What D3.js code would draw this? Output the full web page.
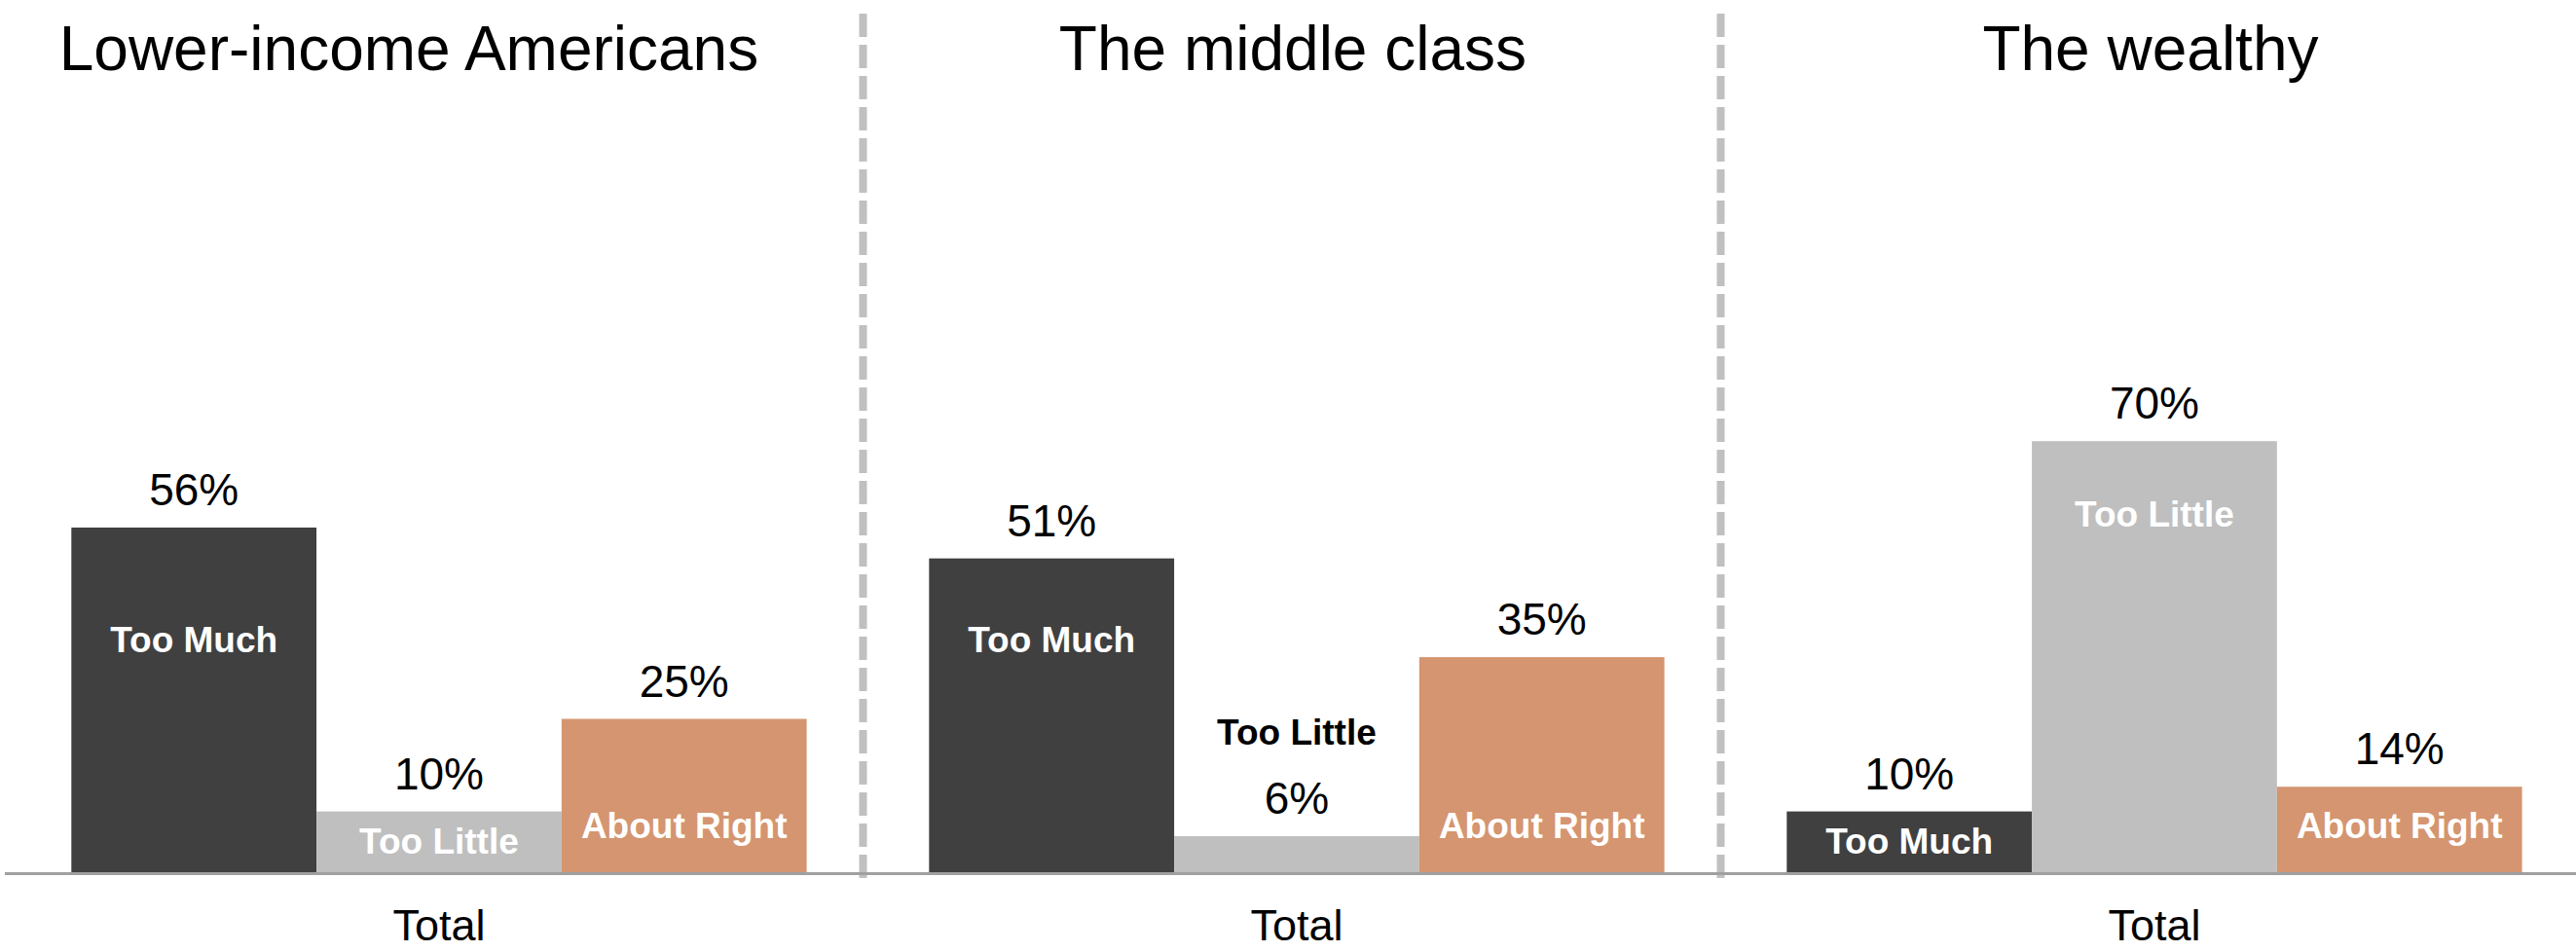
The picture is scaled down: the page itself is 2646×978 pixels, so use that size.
<!DOCTYPE html>
<html>
<head>
<meta charset="utf-8">
<script src="https://cdn.jsdelivr.net/npm/d3@7/dist/d3.min.js"></script>
<style>
  html, body { margin: 0; padding: 0; background: #ffffff; }
  svg { display: block; }
  text { font-family: "Liberation Sans", Arial, Helvetica, sans-serif; }
</style>
</head>
<body>
<svg id="chart" width="2646" height="978"></svg>
<script>
// ---- data ----
const groups = ["Lower-income Americans", "The middle class", "The wealthy"];
const series = ["Too Much", "Too Little", "About Right"];
const categoryLabels = ["Total", "Total", "Total"];
const tooMuch = [56, 51, 10];
const tooLittle = [10, 6, 70];
const aboutRight = [25, 35, 14];
// where each series name label sits, in % units on the value axis
const tooMuchLabelAt = [35.8, 35.8, 3.15];
const tooLittleLabelAt = [3.15, 20.8, 56.15];
const aboutRightLabelAt = [5.7, 5.7, 5.7];

const valuesBySeries = [tooMuch, tooLittle, aboutRight];
const labelAtBySeries = [tooMuchLabelAt, tooLittleLabelAt, aboutRightLabelAt];
const colors = ["#404040", "#bfbfbf", "#d49570"];

// ---- layout ----
const W = 2646, H = 978;
const svg = d3.select("#chart");

const x0 = d3.scaleBand().domain(groups).range([5.5, 2648.5]).paddingInner(0).paddingOuter(0);
const x1 = d3.scaleBand().domain(series).range([67.8, 823.1]).padding(0);
const y = d3.scaleLinear().domain([0, 100]).range([897, 263]);

const rows = [];
groups.forEach((g, gi) => {
  series.forEach((s, si) => {
    rows.push({ g, gi, s, si, v: valuesBySeries[si][gi], la: labelAtBySeries[si][gi] });
  });
});

// dashed separators between panels
const seps = groups.slice(1).map(g => x0(g));
svg.selectAll("line.sep").data(seps).enter().append("line")
  .attr("class", "sep")
  .attr("x1", d => d).attr("x2", d => d)
  .attr("y1", 14).attr("y2", 902)
  .attr("stroke", "#c0c0c0").attr("stroke-width", 8)
  .attr("stroke-dasharray", "24 8");

// bars
svg.selectAll("rect.bar").data(rows).enter().append("rect")
  .attr("class", "bar")
  .attr("x", d => x0(d.g) + x1(d.s))
  .attr("width", x1.bandwidth())
  .attr("y", d => y(d.v))
  .attr("height", d => y(0) - y(d.v))
  .attr("fill", d => colors[d.si]);

// axis baseline
svg.append("line")
  .attr("x1", 5).attr("x2", W)
  .attr("y1", y(0) + 0.5).attr("y2", y(0) + 0.5)
  .attr("stroke", "#a0a0a0").attr("stroke-width", 3);

// value labels
svg.selectAll("text.val").data(rows).enter().append("text")
  .attr("class", "val")
  .attr("x", d => x0(d.g) + x1(d.s) + x1.bandwidth() / 2)
  .attr("y", d => y(d.v) - 23)
  .attr("text-anchor", "middle")
  .attr("font-size", 46)
  .attr("fill", "#000")
  .text(d => d.v + "%");

// series name labels
svg.selectAll("text.name").data(rows).enter().append("text")
  .attr("class", "name")
  .attr("x", d => x0(d.g) + x1(d.s) + x1.bandwidth() / 2)
  .attr("y", d => y(d.la))
  .attr("text-anchor", "middle")
  .attr("font-size", 37)
  .attr("font-weight", "bold")
  .attr("fill", d => d.la > d.v ? "#000" : "#fff")
  .text(d => d.s);

// panel titles
const titleDx = [-31, -4, -4];
svg.selectAll("text.title").data(groups).enter().append("text")
  .attr("class", "title")
  .attr("x", (d, i) => x0(d) + (x1.range()[0] + x1.range()[1]) / 2 + titleDx[i])
  .attr("y", 72)
  .attr("text-anchor", "middle")
  .attr("font-size", 64)
  .attr("fill", "#000")
  .text(d => d);

// category labels
svg.selectAll("text.cat").data(groups).enter().append("text")
  .attr("class", "cat")
  .attr("x", d => x0(d) + (x1.range()[0] + x1.range()[1]) / 2)
  .attr("y", 966)
  .attr("text-anchor", "middle")
  .attr("font-size", 45)
  .attr("fill", "#000")
  .text((d, i) => categoryLabels[i]);
</script>
</body>
</html>
